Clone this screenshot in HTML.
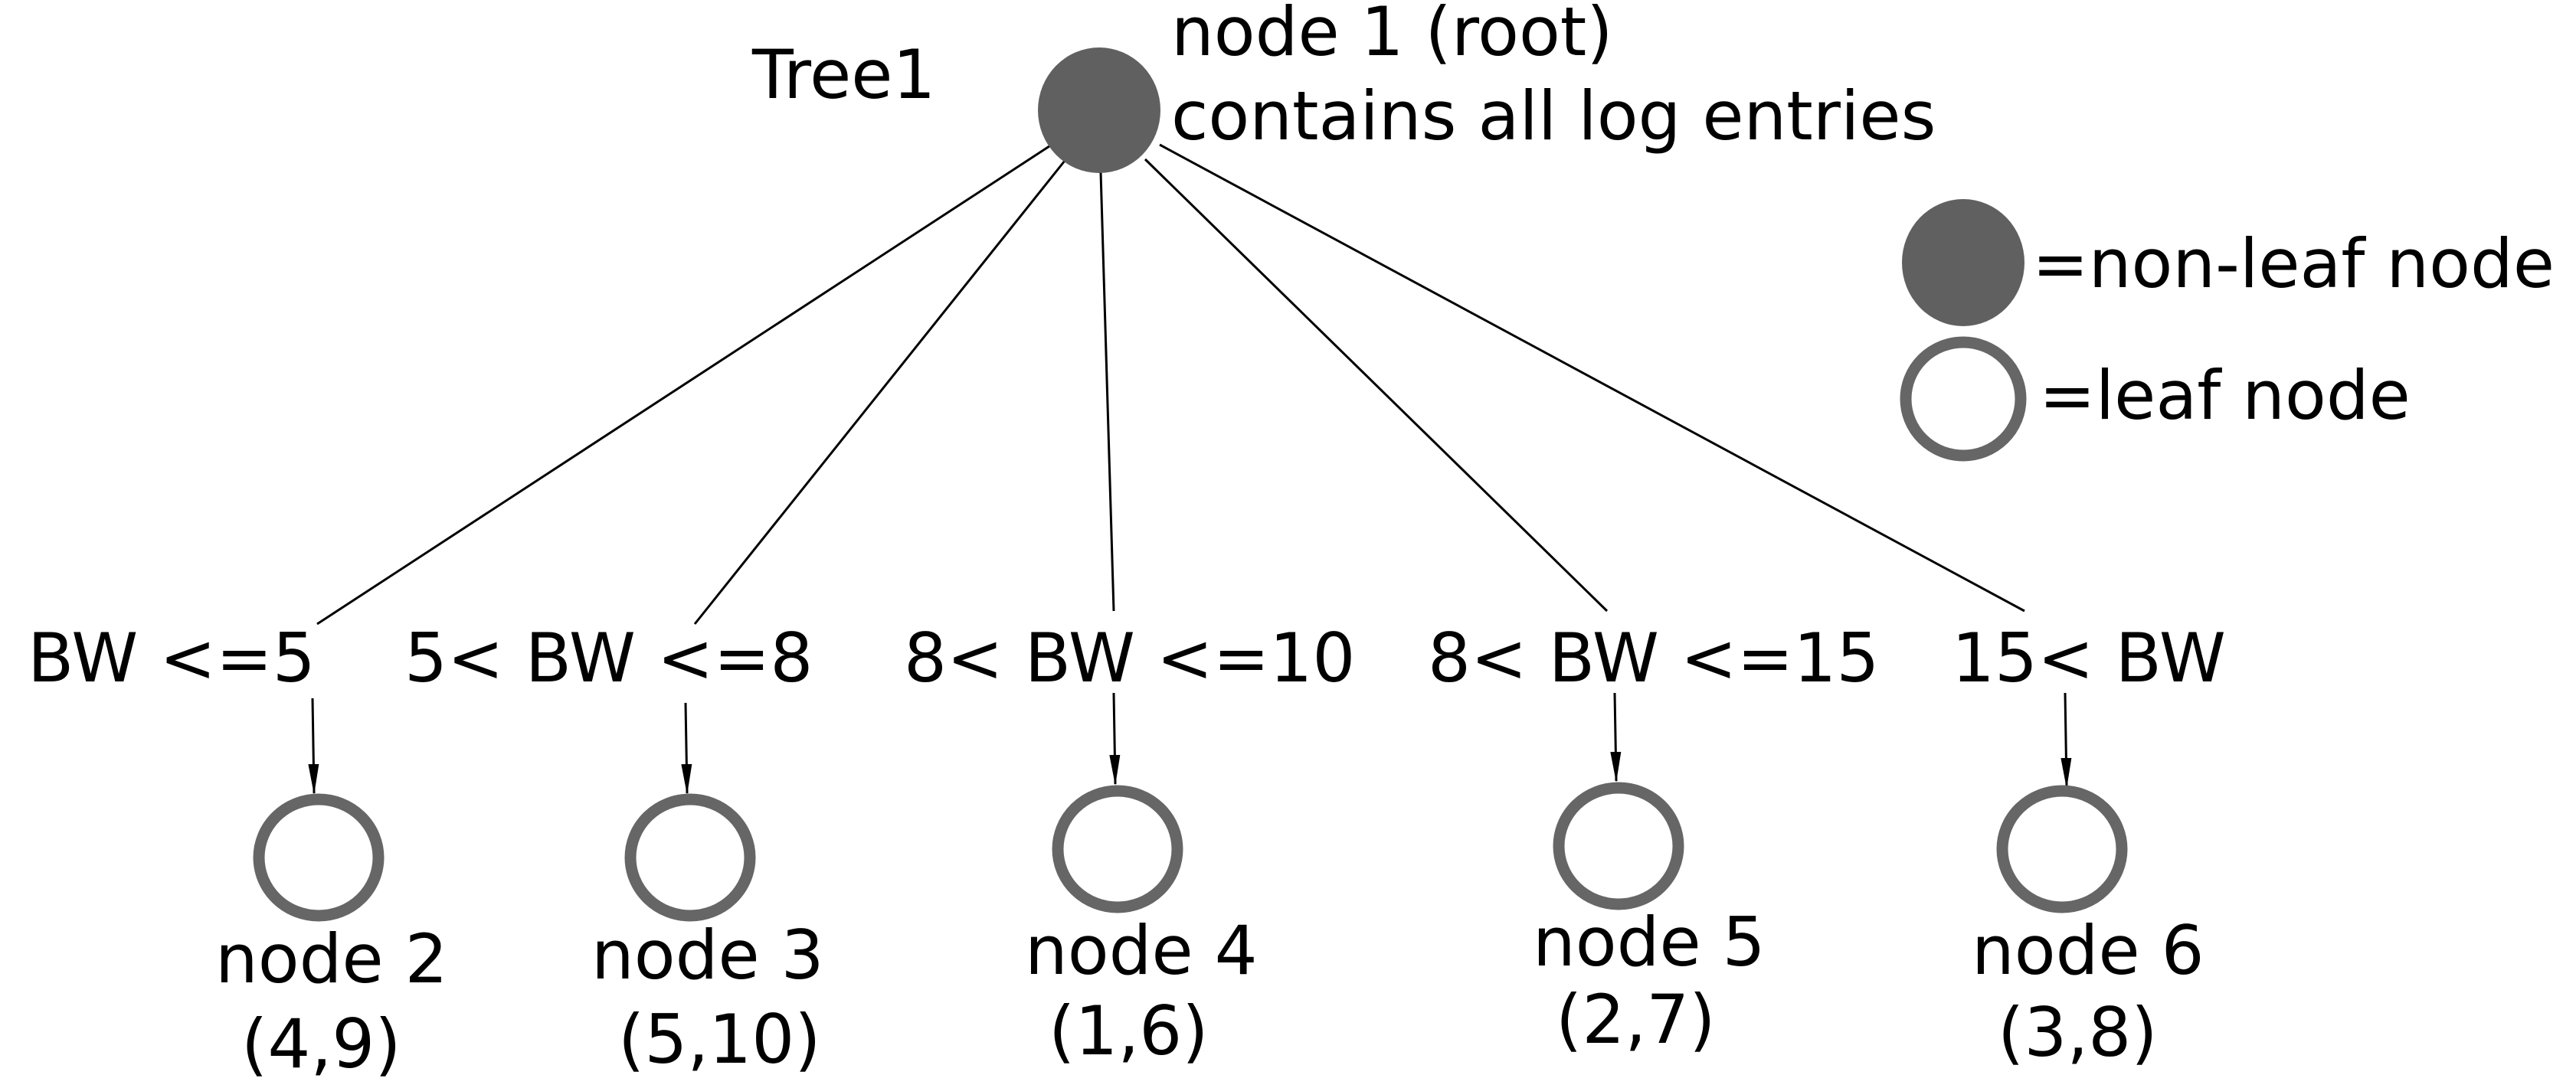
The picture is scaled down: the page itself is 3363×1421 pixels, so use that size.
<!DOCTYPE html>
<html><head><meta charset="utf-8"><style>html,body{margin:0;padding:0;background:#fff}svg{display:block}</style></head>
<body>
<svg width="3363" height="1421" viewBox="0 0 3363 1421" xmlns="http://www.w3.org/2000/svg">
<defs><marker id="ah" markerWidth="10" markerHeight="14" refX="9" refY="7" orient="auto" markerUnits="userSpaceOnUse"><path d="M0,0 L40,7 L0,14 z" transform="scale(0.25,1)"/></marker>
<marker id="a2" markerWidth="40" markerHeight="20" refX="38" refY="10" orient="auto" markerUnits="userSpaceOnUse"><path d="M0,3 L40,10 L0,17 z" fill="#000"/></marker></defs>
<g stroke="#000" stroke-width="3" fill="none">
<line x1="1373" y1="189" x2="414" y2="815"/>
<line x1="1390" y1="210" x2="907" y2="815"/>
<line x1="1437" y1="225" x2="1454" y2="798"/>
<line x1="1495" y1="208" x2="2098" y2="798"/>
<line x1="1514" y1="189" x2="2643" y2="798"/>
<line x1="408" y1="912" x2="410" y2="1036" marker-end="url(#a2)"/>
<line x1="895" y1="918" x2="897" y2="1036" marker-end="url(#a2)"/>
<line x1="1454" y1="905" x2="1456" y2="1024" marker-end="url(#a2)"/>
<line x1="2108" y1="905" x2="2110" y2="1020" marker-end="url(#a2)"/>
<line x1="2696" y1="905" x2="2698" y2="1028" marker-end="url(#a2)"/>
</g>
<ellipse cx="1435" cy="144" rx="80" ry="82" fill="#606060"/>
<ellipse cx="2563" cy="343" rx="80" ry="83" fill="#606060"/>
<g fill="none" stroke="#666" stroke-width="15">
<ellipse cx="2563" cy="521" rx="75" ry="74"/>
<ellipse cx="416" cy="1120" rx="78" ry="76"/>
<ellipse cx="901" cy="1120" rx="78" ry="76"/>
<ellipse cx="1459" cy="1109" rx="78" ry="76"/>
<ellipse cx="2113" cy="1105" rx="78" ry="76"/>
<ellipse cx="2692" cy="1109" rx="78" ry="76"/>
</g>
<g font-family="DejaVu Sans, Liberation Sans, sans-serif" font-size="88" fill="#000">
<text x="982" y="128">Tree1</text>
<text x="1529" y="72">node 1 (root)</text>
<text x="1529" y="182">contains all log entries</text>
<text x="2653" y="375">=non-leaf node</text>
<text x="2662" y="547">=leaf node</text>
<text x="36" y="890">BW &lt;=5</text>
<text x="528" y="890">5&lt; BW &lt;=8</text>
<text x="1180" y="890">8&lt; BW &lt;=10</text>
<text x="1864" y="890">8&lt; BW &lt;=15</text>
<text x="2548" y="890">15&lt; BW</text>
<text x="281" y="1283">node 2</text>
<text x="315" y="1394">(4,9)</text>
<text x="772" y="1278">node 3</text>
<text x="807" y="1388">(5,10)</text>
<text x="1338" y="1272">node 4</text>
<text x="1369" y="1377">(1,6)</text>
<text x="2001" y="1261">node 5</text>
<text x="2031" y="1362">(2,7)</text>
<text x="2574" y="1272">node 6</text>
<text x="2608" y="1379">(3,8)</text>
</g>
</svg>
</body></html>
